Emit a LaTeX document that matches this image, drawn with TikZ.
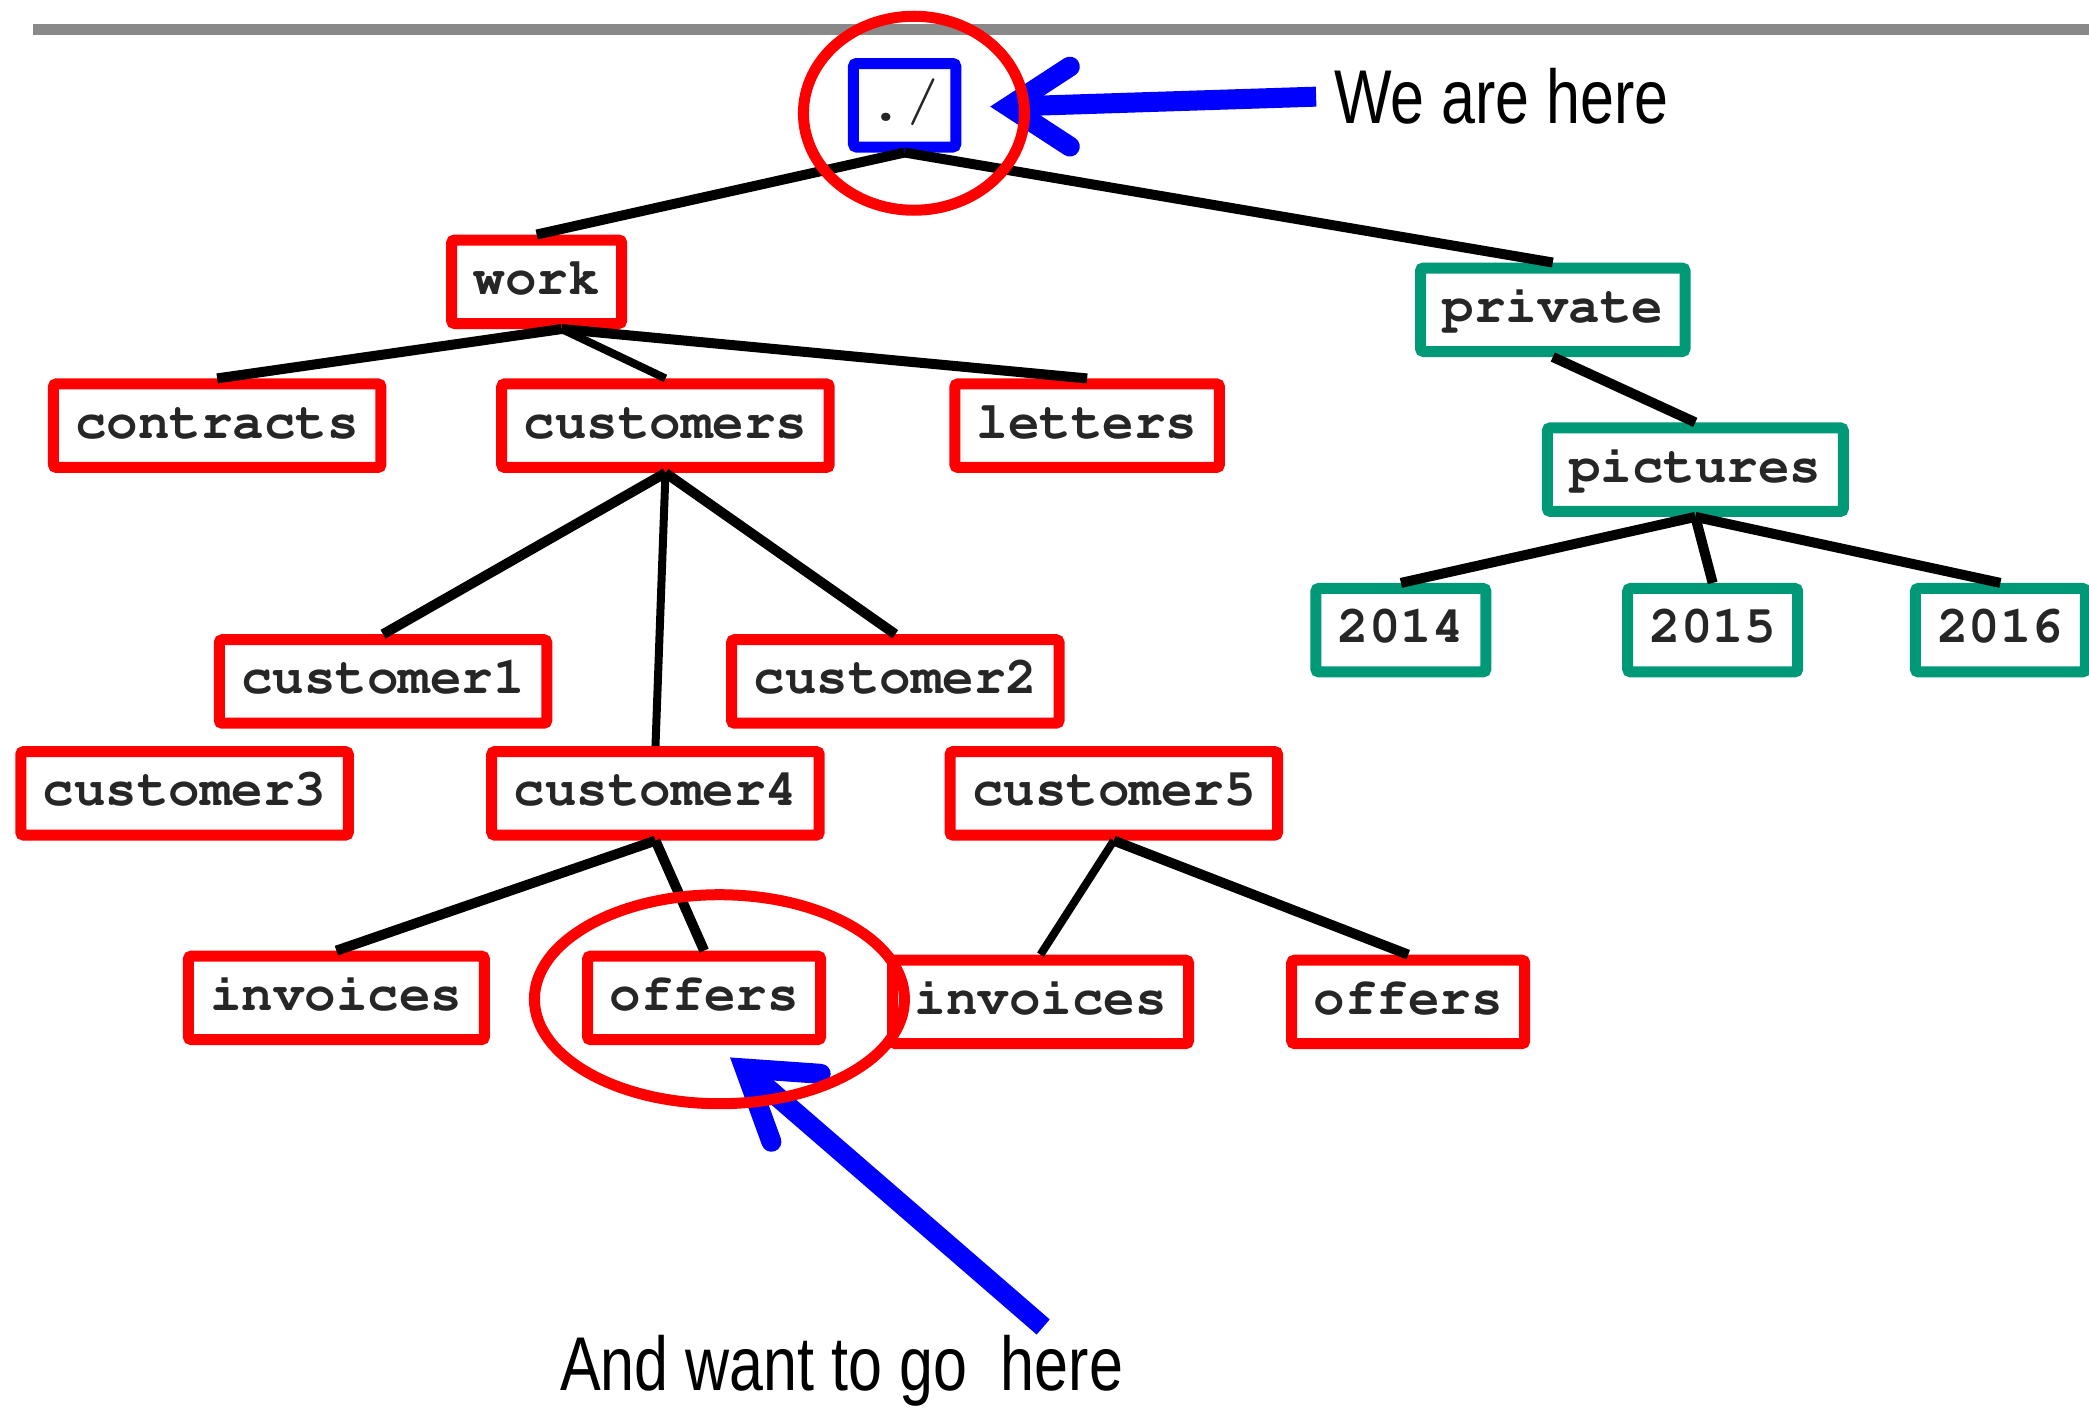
\documentclass[tikz,border=0pt]{standalone}
\usepackage[T1,TU]{fontenc}
\usepackage{fontspec}
\newfontfamily\narrowsans[FakeStretch=0.8]{Liberation Sans}
\usetikzlibrary{calc}
\definecolor{boxred}{RGB}{255,0,0}
\definecolor{boxgreen}{RGB}{0,153,119}
\definecolor{boxblue}{RGB}{0,0,255}
\definecolor{txtgray}{RGB}{38,38,38}
\definecolor{rulegray}{RGB}{137,137,137}
\newcommand{\courb}{\fontencoding{T1}\fontfamily{pcr}\fontseries{b}\fontshape{n}\fontsize{21}{24}\selectfont}
\newcommand{\courm}{\fontencoding{T1}\fontfamily{pcr}\fontseries{m}\fontshape{n}\fontsize{25}{28}\selectfont}
\begin{document}
\begin{tikzpicture}[x=0.5329pt,y=-0.5329pt,
  dirbox/.style={draw=boxred, line width=4.4pt, fill=white, rounded corners=1.2pt,
    inner xsep=8.8pt, inner ysep=0pt, minimum height=33.4pt,
    text height=14.2pt, text depth=4.2pt, text=txtgray, font=\courb},
  greenbox/.style={dirbox, draw=boxgreen},
  herebox/.style={dirbox, draw=boxblue, font=\courm, inner xsep=0pt, minimum width=40.9pt,
    text height=17pt, text depth=4.5pt},
  thickline/.style={line width=4pt, black},
  thinline/.style={line width=3.2pt, black},
  ring/.style={draw=boxred, line width=4.4pt},
  bluearrow/.style={draw=boxblue, line width=8pt},
  bluebarb/.style={draw=boxblue, line width=8pt, line cap=round, line join=miter, miter limit=10},
  note/.style={font=\narrowsans\fontsize{30.5}{36}\selectfont, inner sep=0pt, anchor=base west, text=black}
]
\useasboundingbox (0,0) rectangle (1568,1057);
\draw[rulegray, line width=4.3pt] (25,22) -- (1568,22);

% tree nodes
\node[herebox]  (root)       at (679,79)     {./};
\node[dirbox]   (work)       at (402.8,211.5) {work};
\node[greenbox] (private)    at (1165.5,232.5) {private};
\node[dirbox]   (contracts)  at (163,319.5)  {contracts};
\node[dirbox]   (customers)  at (499.5,319.5) {customers};
\node[dirbox]   (letters)    at (816,319.5)  {letters};
\node[greenbox] (pictures)   at (1272.5,352.5) {pictures};
\node[greenbox] (y2014)      at (1051.5,473) {2014};
\node[greenbox] (y2015)      at (1285.5,473) {2015};
\node[greenbox] (y2016)      at (1501.5,473) {2016};
\node[dirbox]   (customer1)  at (287.5,511.5) {customer1};
\node[dirbox]   (customer2)  at (672,511.5)  {customer2};
\node[dirbox]   (customer3)  at (138.5,595.5) {customer3};
\node[dirbox]   (customer4)  at (492,595.5)  {customer4};
\node[dirbox]   (customer5)  at (836,595.5)  {customer5};
\node[dirbox]   (invoicesA)  at (252.5,749)  {invoices};
\node[dirbox]   (offersA)    at (528.5,749)  {offers};
\node[dirbox]   (invoicesB)  at (781,752)    {invoices};
\node[dirbox]   (offersB)    at (1057,752)   {offers};

% connectors
\draw[thickline] (root.south) -- (work.north);
\draw[thickline] (root.south) -- (private.north);
\draw[thickline] ([xshift=10pt]work.south) -- (contracts.north);
\draw[thinline]  ([xshift=10pt]work.south) -- (customers.north);
\draw[thickline] ([xshift=10pt]work.south) -- (letters.north);
\draw[thickline] (customers.south) -- (customer1.north);
\draw[thinline]  (customers.south) -- (customer4.north);
\draw[thickline] (customers.south) -- (customer2.north);
\draw[thickline] (customer4.south) -- (invoicesA.north);
\draw[thickline] (customer4.south) -- (offersA.north);
\draw[thinline]  (customer5.south) -- (invoicesB.north);
\draw[thickline] (customer5.south) -- (offersB.north);
\draw[thickline] (private.south) -- (pictures.north);
\draw[thickline] (pictures.south) -- (y2014.north);
\draw[thickline] (pictures.south) -- (y2015.north);
\draw[thickline] (pictures.south) -- (y2016.north);

% labels
\node[note] (here) at (1001,93) {We are here};
\node[note] (goal) at (420,1044) {And want to go\ \ here};

% blue arrows
\coordinate (tipA) at (757,80);
\coordinate (barbA1) at (803,50);
\coordinate (barbA2) at (803,110);
\draw[bluearrow] ([xshift=-7pt]here.west) -- (tipA);
\draw[bluebarb] (barbA1) -- (tipA) -- (barbA2);

\coordinate (tailB) at (783,996);
\coordinate (tipB) at (559,802);
\coordinate (barbB1) at (616,806);
\coordinate (barbB2) at (579,857);
\draw[bluearrow] (tailB) -- (tipB);
\draw[bluebarb] (barbB1) -- (tipB) -- (barbB2);

% red rings
\draw[ring] (686,85) ellipse [x radius=44.2pt, y radius=38.8pt];
\draw[ring] (540,750) ellipse [x radius=74pt, y radius=41.8pt];
\end{tikzpicture}
\end{document}
